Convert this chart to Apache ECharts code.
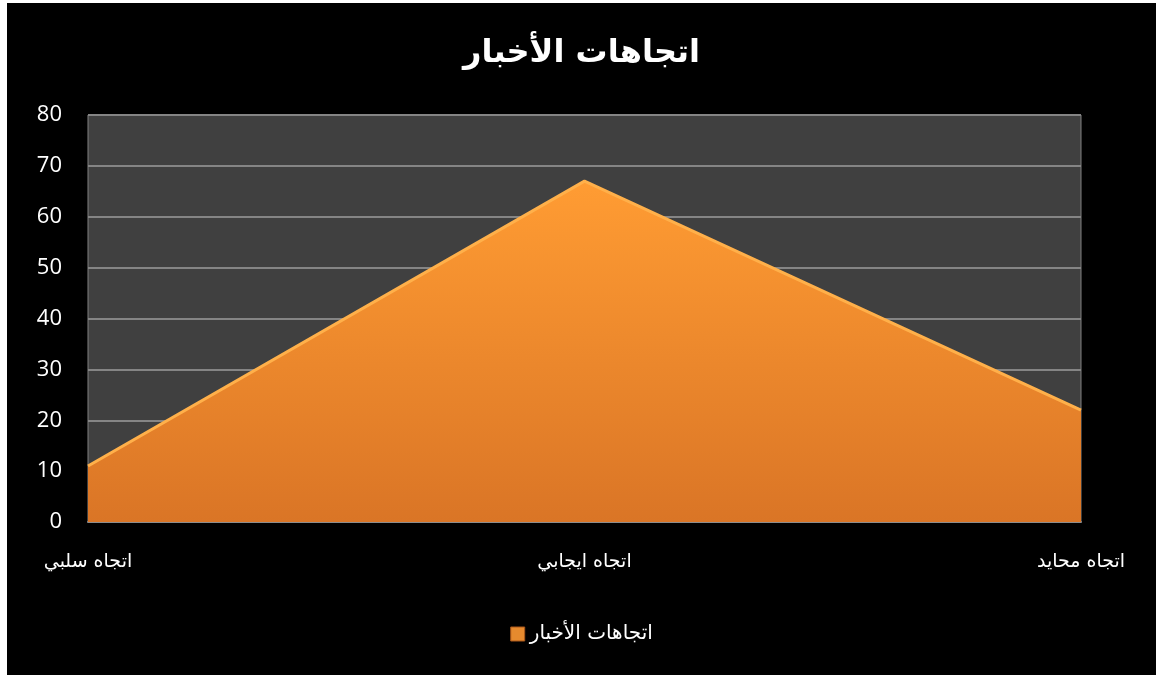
<!DOCTYPE html>
<html>
<head>
<meta charset="utf-8">
<script src="https://cdn.jsdelivr.net/npm/echarts@6/dist/echarts.min.js"></script>
<style>
  html, body { margin: 0; padding: 0; background: #fff; }
  #chart { position: absolute; left: 7px; top: 3px; width: 1149px; height: 672px; background: #000; }
</style>
</head>
<body>
<div id="chart"></div>
<script>
const titleText = "اتجاهات الأخبار";
const seriesName = "اتجاهات الأخبار";
const categories = ["اتجاه سلبي", "اتجاه ايجابي", "اتجاه محايد"];
const values = [11, 67, 22];
const yMin = 0;
const yMax = 80;
const yStep = 10;

const myChart = echarts.init(document.getElementById("chart"));

const fillColor = new echarts.graphic.LinearGradient(0, 0, 0, 1, [
  { offset: 0, color: "#ff9c33" },
  { offset: 1, color: "#da7526" },
]);

const option = {
  backgroundColor: "#000",
  animation: false,
  title: {
    text: titleText,
    left: "center",
    top: 30,
    textStyle: {
      color: "#fff",
      fontSize: 32,
      fontWeight: "bold",
      fontFamily: "DejaVu Sans",
    },
  },
  legend: {
    bottom: 26,
    left: "center",
    itemWidth: 14,
    itemHeight: 14,
    itemGap: 8,
    icon: "rect",
    textStyle: { color: "#fff", fontSize: 20, fontFamily: "DejaVu Sans" },
    data: [{ name: seriesName, itemStyle: { color: "#e68a2e", borderColor: "#a9561a", borderWidth: 1 } }],
  },
  grid: {
    left: 81,
    right: 75,
    top: 112,
    bottom: 153,
    show: true,
    backgroundColor: "#404040",
    borderColor: "#808080",
    borderWidth: 1,
  },
  xAxis: {
    type: "category",
    boundaryGap: false,
    data: categories,
    axisLine: { show: true, lineStyle: { color: "#8c8c8c", width: 2 } },
    axisTick: { show: false },
    axisLabel: {
      color: "#fff",
      fontSize: 19,
      fontFamily: "DejaVu Sans",
      margin: 31,
    },
    splitLine: { show: false },
  },
  yAxis: {
    type: "value",
    min: yMin,
    max: yMax,
    interval: yStep,
    axisLine: { show: false },
    axisTick: { show: false },
    axisLabel: {
      color: "#fff",
      fontSize: 22,
      fontFamily: "Open Sans",
      margin: 26,
    },
    splitLine: { show: true, lineStyle: { color: "#858585", width: 2 } },
  },
  series: [
    {
      name: seriesName,
      type: "line",
      data: values,
      symbol: "none",
      itemStyle: { color: "#e68a2e" },
      lineStyle: { color: "#ffb04a", width: 3 },
      areaStyle: { color: fillColor, opacity: 1 },
      z: 3,
    },
  ],
};
myChart.setOption(option);
</script>
</body>
</html>
